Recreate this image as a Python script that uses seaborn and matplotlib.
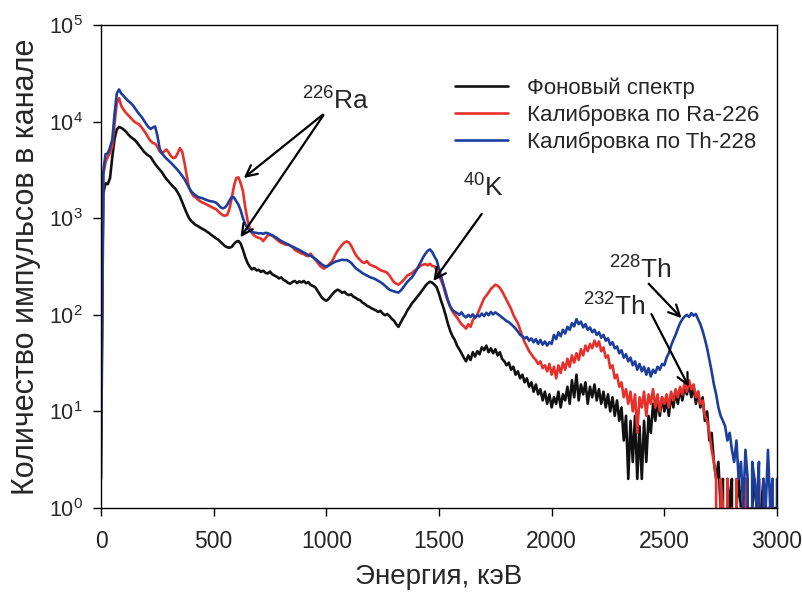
import numpy as np
import pandas as pd
import matplotlib
matplotlib.use("Agg")
import matplotlib.pyplot as plt
import seaborn as sns
from matplotlib.ticker import FixedLocator, NullLocator, LogLocator, LogFormatterMathtext

# ---------------- data ----------------
energy = list(range(0, 3001, 10))

background = [
    2, 1800, 2300, 2250, 2600, 4300, 6600, 8300, 8800, 8600,
    8300, 7900, 7400, 7000, 6700, 6450, 6050, 5650, 5250, 4900,
    4650, 4450, 4300, 3950, 3650, 3400, 3200, 3000, 2750, 2550,
    2400, 2250, 2120, 2020, 1850, 1680, 1470, 1290, 1130, 1010,
    935, 890, 850, 830, 800, 775, 755, 725, 700, 670,
    645, 620, 600, 570, 540, 515, 500, 495, 505, 540,
    570, 580, 545, 470, 395, 345, 315, 295, 305, 288,
    292, 278, 286, 272, 268, 280, 262, 255, 248, 238,
    244, 230, 224, 214, 210, 219, 224, 213, 222, 216,
    224, 212, 218, 204, 199, 194, 178, 164, 151, 144,
    140, 146, 156, 167, 176, 182, 177, 169, 173, 164,
    160, 163, 154, 150, 144, 142, 134, 130, 124, 121,
    117, 114, 111, 107, 110, 103, 99, 102, 97, 91,
    87, 80, 75, 83, 92, 100, 112, 120, 132, 140,
    150, 160, 172, 185, 200, 212, 220, 215, 205, 192,
    165, 138, 118, 98, 80, 68, 60, 55, 48, 44,
    40, 36, 33, 38, 34, 41, 37, 42, 39, 46,
    43, 48, 41, 45, 40, 44, 38, 41, 35, 33,
    30, 32, 27, 29, 24, 26, 22, 24, 20, 22,
    18, 20, 16, 19, 15, 17, 13, 16, 12, 15,
    11, 14, 12, 16, 11, 15, 13, 18, 12, 21,
    14, 24, 13, 19, 15, 20, 12, 18, 14, 19,
    13, 17, 12, 16, 11, 15, 10, 14, 9, 13,
    8, 11, 5, 9, 2, 8, 3, 9, 2, 7,
    2, 8, 3, 9, 6, 12, 8, 13, 9, 14,
    10, 13, 9, 15, 11, 16, 12, 17, 13, 18,
    15, 19, 14, 18, 12, 16, 11, 14, 8, 10,
    5, 6, 3, 2, 3, 1, 2, 0, 2, 1,
    2, 0, 1, 2, 1, 0, 2, 1, 0, 1,
    2, 1, 0, 1, 2, 0, 1, 1, 0, 1,
    1]

ra226 = [
    5, 2800, 3800, 4300, 4800, 5500, 9500, 15500, 17500, 14500,
    13300, 12400, 11700, 11000, 10400, 9900, 9600, 9300, 8700, 8100,
    7500, 6800, 6300, 6000, 5900, 5500, 4900, 4700, 4900, 5150,
    4800, 4400, 4200, 4250, 4700, 5300, 4900, 3800, 2800, 2100,
    1850, 1700, 1640, 1560, 1500, 1450, 1420, 1380, 1340, 1300,
    1270, 1240, 1180, 1120, 1075, 1060, 1080, 1250, 1600, 2150,
    2600, 2650, 2300, 1900, 1300, 960, 790, 700, 660, 640,
    625, 615, 580, 620, 665, 670, 660, 630, 600, 575,
    555, 545, 530, 535, 520, 505, 470, 455, 445, 430,
    425, 410, 405, 430, 400, 375, 350, 325, 310, 300,
    315, 330, 345, 375, 420, 460, 495, 530, 560, 575,
    560, 520, 465, 420, 390, 370, 350, 345, 360, 335,
    325, 318, 312, 300, 290, 284, 280, 272, 255, 235,
    218, 210, 205, 215, 225, 240, 256, 262, 270, 285,
    295, 310, 325, 330, 335, 325, 338, 320, 318, 290,
    255, 225, 195, 160, 138, 120, 108, 100, 94, 86,
    80, 76, 72, 80, 75, 88, 95, 100, 115, 130,
    148, 158, 170, 185, 195, 205, 200, 190, 175, 158,
    142, 128, 115, 100, 90, 82, 70, 60, 52, 47,
    42, 39, 36, 34, 31, 33, 28, 30, 26, 31,
    24, 29, 22, 30, 25, 32, 27, 35, 29, 38,
    32, 40, 34, 44, 38, 48, 42, 50, 45, 54,
    47, 53, 42, 46, 36, 38, 28, 30, 22, 24,
    18, 20, 14, 17, 12, 16, 10, 15, 6, 14,
    11, 16, 9, 15, 12, 17, 11, 15, 10, 14,
    12, 15, 11, 16, 13, 17, 14, 18, 15, 20,
    16, 21, 17, 19, 14, 16, 12, 13, 9, 8,
    6, 4, 3, 2, 0, 2, 1, 0, 2, 0,
    1, 0, 2, 0, 1, 0, 2, 0, 1, 0,
    1, 0, 2, 0, 1, 0, 1, 0, 2, 0,
    1]

th228 = [
    5, 3000, 4600, 4700, 5400, 6500, 12000, 19500, 21500, 19500,
    18500, 17300, 16400, 15700, 14900, 13800, 12800, 11900, 11200, 10300,
    9500, 8800, 8400, 8700, 8900, 7200, 5300, 4700, 4400, 4150,
    3950, 3750, 3550, 3350, 3150, 2950, 2750, 2550, 2300, 2080,
    1900, 1800, 1720, 1660, 1630, 1610, 1570, 1540, 1510, 1495,
    1480, 1450, 1380, 1300, 1265, 1290, 1380, 1520, 1650, 1640,
    1500, 1380, 1200, 1000, 870, 790, 740, 720, 710, 705,
    695, 700, 690, 705, 700, 680, 665, 645, 625, 600,
    580, 565, 550, 535, 520, 505, 495, 480, 470, 455,
    440, 428, 415, 408, 395, 380, 365, 348, 332, 322,
    315, 322, 335, 345, 355, 360, 366, 372, 368, 370,
    360, 345, 325, 305, 292, 282, 270, 262, 255, 248,
    242, 238, 232, 225, 218, 210, 200, 190, 182, 178,
    175, 172, 170, 178, 190, 205, 220, 232, 245, 265,
    290, 320, 355, 395, 430, 460, 475, 445, 400, 365,
    300, 245, 205, 170, 140, 122, 112, 108, 104, 100,
    106, 98, 94, 100, 95, 101, 93, 99, 96, 103,
    97, 105, 99, 107, 101, 106, 102, 98, 94, 90,
    86, 84, 80, 76, 72, 67, 62, 60, 57, 59,
    54, 57, 52, 56, 50, 55, 49, 53, 48, 52,
    50, 62, 56, 66, 60, 70, 64, 75, 70, 82,
    76, 90, 80, 85, 74, 80, 70, 74, 66, 70,
    62, 66, 58, 62, 54, 57, 49, 52, 45, 47,
    40, 43, 36, 39, 33, 36, 30, 33, 27, 31,
    26, 29, 24, 28, 23, 27, 25, 29, 27, 31,
    30, 36, 40, 48, 55, 62, 72, 82, 90, 96,
    100, 95, 104, 98, 102, 90, 80, 68, 56, 45,
    34, 26, 19, 15, 11, 9, 8, 7, 5, 6,
    4, 3, 5, 2, 3, 1, 4, 2, 0, 3,
    2, 1, 3, 0, 2, 1, 4, 1, 2, 0,
    2]

series_names = ["Фоновый спектр", "Калибровка по Ra-226", "Калибровка по Th-228"]
series_colors = ["#111111", "#e8302a", "#1c3f9e"]
x_ticks = [0, 500, 1000, 1500, 2000, 2500, 3000]
x_label = "Энергия, кэВ"
y_label = "Количество импульсов в канале"

# ---------------- build table ----------------
frames = []
for name, vals in zip(series_names, [background, ra226, th228]):
    frames.append(pd.DataFrame({"E": energy, "counts": vals, "series": name}))
df = pd.concat(frames, ignore_index=True)

# ---------------- style ----------------
sns.set_style("white")
plt.rcParams["font.family"] = ["Liberation Sans", "DejaVu Sans"]
plt.rcParams["mathtext.fontset"] = "custom"
plt.rcParams["mathtext.rm"] = "Liberation Sans"
plt.rcParams["mathtext.it"] = "Liberation Sans:italic"
plt.rcParams["mathtext.bf"] = "Liberation Sans:bold"

fig = plt.figure(figsize=(8.03, 5.95), dpi=100)
ax = fig.add_axes([0.1258, 0.1462, 0.8418, 0.8118])

sns.lineplot(data=df, x="E", y="counts", hue="series", hue_order=series_names,
             palette=dict(zip(series_names, series_colors)), estimator=None,
             sort=False, linewidth=1.9, ax=ax)

ax.set_yscale("log")
ax.set_xlim(0, 3000)
ax.set_ylim(1, 1e5)
ax.xaxis.set_major_locator(FixedLocator(x_ticks))
ax.xaxis.set_minor_locator(NullLocator())
ax.yaxis.set_major_locator(LogLocator(base=10, numticks=10))
ax.yaxis.set_major_formatter(LogFormatterMathtext())
ax.yaxis.set_minor_locator(NullLocator())

for s in ax.spines.values():
    s.set_color("black")
    s.set_linewidth(1.0)
ax.tick_params(axis="both", direction="out", length=6, width=1, color="black",
               bottom=True, left=True)
ax.tick_params(axis="x", labelsize=16.5, pad=10)
ax.tick_params(axis="y", labelsize=15.5, pad=7)

ax.set_xlabel(x_label, fontsize=20, labelpad=8)
ax.set_ylabel(y_label, fontsize=22, labelpad=6)

handles, labels = ax.get_legend_handles_labels()
ax.legend(handles, labels, frameon=False, fontsize=16, loc="upper left",
          bbox_to_anchor=(0.51, 0.91), handlelength=2.4, handletextpad=0.85,
          labelspacing=0.25, borderaxespad=0)

# ---------------- annotations ----------------
arrow = dict(arrowstyle="->", color="black", lw=1.6, mutation_scale=20)
ax.annotate("", xy=(624, 2500), xytext=(994, 12300), arrowprops=arrow)
ax.annotate("", xy=(612, 600), xytext=(994, 12300), arrowprops=arrow)
ax.text(1040, 16500, r"$\mathregular{^{226}Ra}$", fontsize=19, ha="center", va="center")

ax.annotate("", xy=(1468, 212), xytext=(1697, 1170), arrowprops=arrow)
ax.text(1696, 2050, r"$\mathregular{^{40}K}$", fontsize=19, ha="center", va="center")

ax.annotate("", xy=(2585, 88), xytext=(2422, 220), arrowprops=arrow)
ax.text(2392, 290, r"$\mathregular{^{228}Th}$", fontsize=19, ha="center", va="center")

ax.annotate("", xy=(2614, 17), xytext=(2437, 108), arrowprops=arrow)
ax.text(2277, 120, r"$\mathregular{^{232}Th}$", fontsize=19, ha="center", va="center")

fig.savefig("out.png", dpi=100)
